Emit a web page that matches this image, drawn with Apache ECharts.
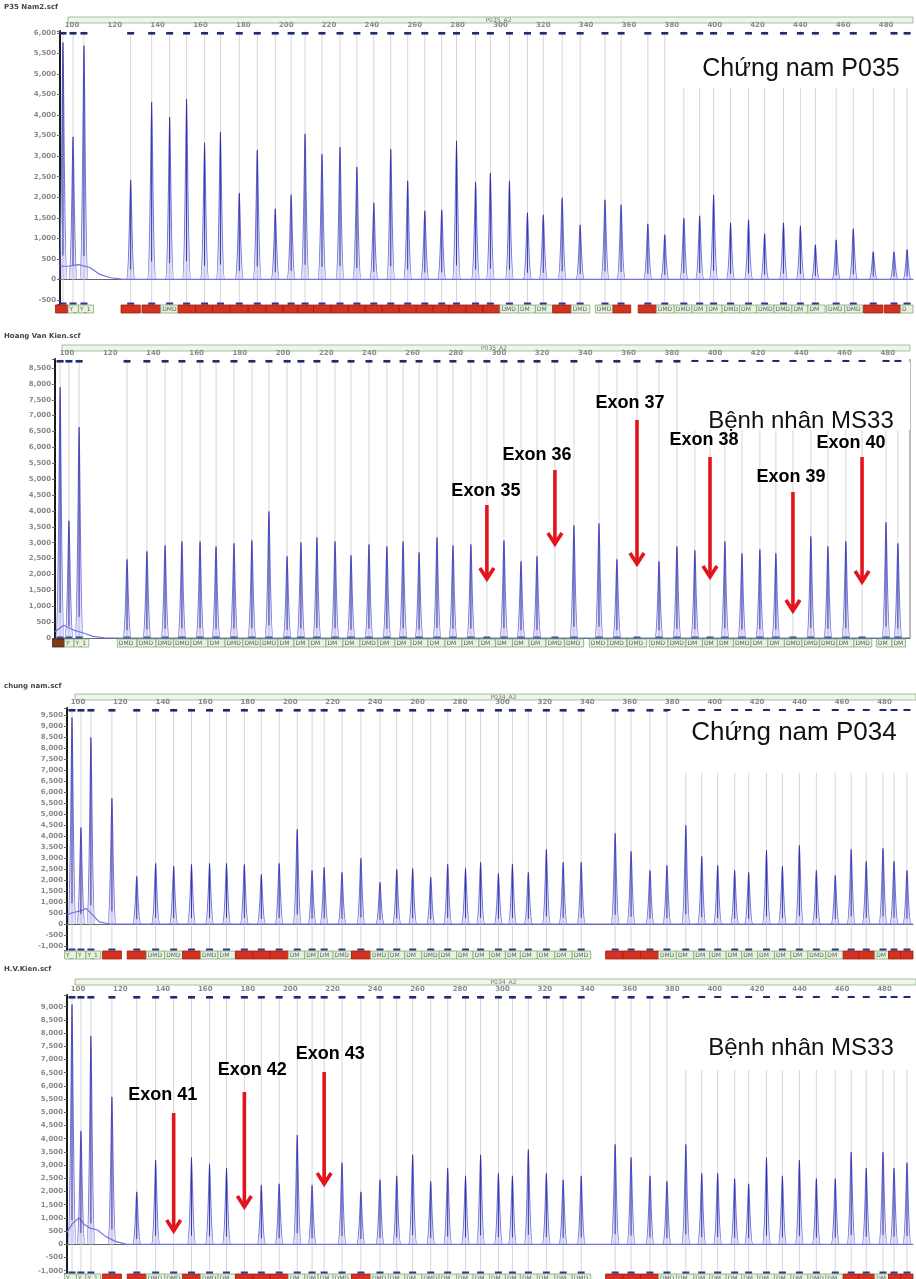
<!DOCTYPE html>
<html>
<head>
<meta charset="utf-8">
<title>MLPA DMD – P035 / P034</title>
<script src="https://cdn.jsdelivr.net/npm/echarts@6.0.0/dist/echarts.min.js"></script>
<style>
  html, body { margin: 0; padding: 0; background: #fff; }
  #c { width: 916px; height: 1279px; }
</style>
</head>
<body>
<div id="c"></div>
<script>
// ---------------- data (fragment size in nt, peak height in RFU) ----------------
const sampleNames = ['P35 Nam2.scf', 'Hoang Van Kien.scf', 'chung nam.scf', 'H.V.Kien.scf'];
const runNames = ['P035_A2', 'P035_A2', 'P034_A2', 'P034_A2'];
const panelLabels = ['Chứng nam P035', 'Bệnh nhân MS33', 'Chứng nam P034', 'Bệnh nhân MS33'];

// P035, normal male control
const p035ControlSize = [95.8, 100.5, 105.6, 127.4, 137.2, 145.6, 153.5, 161.9, 169.3, 178.1, 186.5, 194.9, 202.3, 208.8, 216.7, 225.1, 233.0, 240.9, 248.8, 256.7, 264.7, 272.6, 279.5, 288.4, 295.3, 304.2, 312.6, 320.0, 328.8, 337.2, 348.8, 356.3, 368.8, 376.7, 385.6, 393.0, 399.5, 407.4, 415.8, 423.3, 432.1, 440.0, 447.0, 456.7, 464.7, 474.0, 483.7, 489.8];
const p035ControlHeight = [5780, 3480, 5700, 2430, 4325, 3960, 4400, 3330, 3600, 2110, 3160, 1725, 2065, 3550, 3060, 3230, 2745, 1870, 3180, 2405, 1675, 1700, 3380, 2380, 2600, 2405, 1630, 1580, 1990, 1335, 1945, 1820, 1360, 1095, 1500, 1555, 2065, 1385, 1460, 1120, 1385, 1310, 850, 970, 1240, 680, 680, 730];

// P035, patient MS33 (0 = no peak)
const p035PatientSize = [96.8, 100.9, 105.6, 127.8, 137.0, 145.4, 153.2, 161.6, 169.0, 177.3, 185.6, 193.5, 201.9, 208.3, 215.7, 224.1, 231.5, 239.8, 248.1, 255.6, 263.0, 271.3, 278.7, 287.0, 294.4, 302.3, 310.2, 317.6, 325.9, 334.7, 346.3, 354.6, 363.9, 374.1, 382.4, 390.7, 397.7, 404.6, 412.5, 420.8, 428.2, 436.1, 444.4, 452.3, 460.6, 468.1, 479.2, 484.7];
const p035PatientHeight = [7900, 3700, 6650, 2485, 2735, 2925, 3050, 3050, 2895, 2990, 3080, 3995, 2580, 3020, 3175, 3050, 2610, 2955, 2895, 3050, 2705, 3175, 2925, 2955, 0, 3080, 2420, 2580, 0, 3555, 3615, 2485, 0, 2420, 2895, 2770, 0, 3050, 2675, 2800, 2675, 0, 3210, 2895, 3050, 0, 3650, 2990];

// P034, normal male control
const p034ControlSize = [97.2, 101.4, 106.1, 116.0, 127.7, 136.6, 145.1, 153.5, 162.0, 170.0, 178.4, 186.4, 194.8, 203.3, 210.3, 216.0, 224.4, 233.3, 242.3, 250.2, 257.7, 266.2, 274.2, 282.6, 289.7, 298.1, 304.7, 312.2, 320.7, 328.6, 337.1, 353.1, 360.6, 369.5, 377.5, 386.4, 393.9, 401.4, 409.4, 416.0, 424.4, 431.9, 439.9, 447.9, 456.8, 464.3, 471.4, 479.3, 484.5, 490.6];
const p034ControlHeight = [9400, 4400, 8500, 5730, 2180, 2770, 2640, 2730, 2770, 2770, 2730, 2270, 2770, 4320, 2450, 2590, 2360, 3000, 1910, 2500, 2545, 2140, 2730, 2545, 2820, 2320, 2730, 2360, 3410, 2820, 2820, 4140, 3320, 2450, 2680, 4500, 3090, 2680, 2450, 2360, 3360, 2640, 3590, 2450, 2230, 3410, 2860, 3450, 2860, 2450];

// P034, patient MS33 (0 = no peak)
const p034PatientSize = p034ControlSize;
const p034PatientHeight = [9100, 4300, 7900, 5600, 2000, 3200, 0, 3300, 3050, 2900, 0, 2250, 2300, 4150, 2250, 0, 3100, 2000, 2450, 2600, 3400, 2400, 2900, 2600, 3400, 2700, 2600, 3600, 2700, 2450, 2600, 3800, 3300, 2600, 2400, 3800, 2700, 2700, 2500, 2300, 3300, 2600, 3200, 2500, 2500, 3500, 2900, 3500, 2900, 3100];

// trace baseline (size, RFU)
const baselineP035Control = [[94.4, 320], [98.2, 320], [103, 360], [108.4, 290], [113, 120], [118, 40], [124, 0], [492.6, 0]];
const baselineP035Patient = [[94.4, 200], [98.5, 400], [103, 250], [108, 150], [112, 50], [118, 0], [490.3, 0]];
const baselineP034Control = [[94.8, 400], [97, 500], [101, 600], [104, 700], [107, 400], [110, 100], [115, 0], [493.4, 0]];
const baselineP034Patient = [[94.8, 450], [97.5, 800], [100.5, 1000], [103, 750], [106, 600], [109, 550], [113, 300], [118, 100], [123, 0], [493.4, 0]];

// bin annotation strip: r = red, g = named probe box, b = brown
const binTypesP035Control = 'rggrrgrrrrrrrrrrrrrrrrrrrgggrggrrggggggggggggrrg';
const binTypesP035Patient = 'bggggggggggggggggggggggggggggggggggggggggggggggg';
const binTypesP034Control = 'gggrrggrggrrrggggrgggggggggggggrrrgggggggggggrrgrr';
const binTypesP034Patient = 'gggrrggrggrrrggggrgggggggggggggrrrgggggggggggrrgrr';

// deleted exons in the patient
const deletedExonsP035 = ['Exon 35', 'Exon 36', 'Exon 37', 'Exon 38', 'Exon 39', 'Exon 40'];
const deletedExonsP034 = ['Exon 41', 'Exon 42', 'Exon 43'];

// ---------------- layout ----------------
const panels = [
  { size: p035ControlSize, height: p035ControlHeight, base: baselineP035Control, types: binTypesP035Control,
    grid: { left: 60, top: 31, width: 856, height: 273 }, x: [94.42, 492.56], y: [-600, 6050], ySplit: 13,
    titleY: 8, barY: 17, barX: [68, 913], labelBox: [676, 36, 240, 52], labelPos: [801, 69], labelSize: 25 },
  { size: p035PatientSize, height: p035PatientHeight, base: baselineP035Patient, types: binTypesP035Patient,
    grid: { left: 55, top: 359, width: 855, height: 279 }, x: [94.44, 490.3], y: [0, 8783], ySplit: 17,
    titleY: 337, barY: 345, barX: [62, 910], labelBox: [686, 362, 224, 68], labelPos: [801, 421], labelSize: 24, frameRight: true,
    callouts: { names: deletedExonsP035, layout: [
      { top: 505, bottom: 580, ly: 491, dx: -1 }, { top: 470, bottom: 545, ly: 455, dx: -18 },
      { top: 420, bottom: 565, ly: 403, dx: -7 }, { top: 457, bottom: 578, ly: 440, dx: -6 },
      { top: 492, bottom: 612, ly: 477, dx: -2 }, { top: 457, bottom: 583, ly: 443, dx: -11 }] } },
  { size: p034ControlSize, height: p034ControlHeight, base: baselineP034Control, types: binTypesP034Control,
    grid: { left: 67, top: 708, width: 849, height: 242 }, x: [94.84, 493.43], y: [-1182, 9818], ySplit: 22,
    titleY: 687, barY: 694, barX: [75, 916], labelBox: [668, 711, 248, 62], labelPos: [794, 733], labelSize: 26 },
  { size: p034PatientSize, height: p034PatientHeight, base: baselineP034Patient, types: binTypesP034Patient,
    grid: { left: 67, top: 995, width: 849, height: 278 }, x: [94.84, 493.43], y: [-1087, 9443], ySplit: 21,
    titleY: 970, barY: 979, barX: [75, 916], labelBox: [684, 998, 232, 72], labelPos: [801, 1048], labelSize: 24,
    callouts: { names: deletedExonsP034, layout: [
      { top: 1113, bottom: 1232, ly: 1095, dx: -11 }, { top: 1092, bottom: 1208, ly: 1070, dx: 8 },
      { top: 1072, bottom: 1185, ly: 1054, dx: 6 }] } }
];

const TRACE = '#7272e2';
const CORE = '#22228c';
const fmtRFU = v => v.toLocaleString('en-US');

const grids = [], xAxes = [], yAxes = [], series = [], graphics = [];

panels.forEach((p, i) => {
  grids.push(Object.assign({ containLabel: false }, p.grid));
  xAxes.push({
    gridIndex: i, type: 'value', position: 'top', min: p.x[0], max: p.x[1], splitNumber: 20,
    axisLine: { show: true, lineStyle: { color: '#666', width: 1 } },
    axisTick: { show: false }, splitLine: { show: false },
    axisLabel: { margin: 2, fontSize: 7, fontWeight: 'bold', color: '#8a8a8a', fontFamily: 'DejaVu Sans',
      formatter: v => (Math.abs(v % 20) < 1e-6 ? String(v) : '') }
  });
  yAxes.push({
    gridIndex: i, type: 'value', min: p.y[0], max: p.y[1], splitNumber: p.ySplit,
    axisLine: { show: true, lineStyle: { color: '#1a1a1a', width: 2 } },
    axisTick: { show: true, length: 3, lineStyle: { color: '#666' } }, splitLine: { show: false },
    axisLabel: { margin: 4, fontSize: 7, fontWeight: 'bold', color: '#8a8a8a', fontFamily: 'DejaVu Sans',
      formatter: v => (Math.abs(v % 500) < 1e-6 ? fmtRFU(v) : '') }
  });

  const sizes = p.size;

  // bin guide lines with markers at top and bottom of the plot
  series.push({
    type: 'custom', xAxisIndex: i, yAxisIndex: i, silent: true, z: 1, clip: false,
    data: sizes.map(s => [s, 0]),
    renderItem: (params, api) => {
      const cs = params.coordSys;
      const x = api.coord([api.value(0), 0])[0];
      return { type: 'group', children: [
        { type: 'line', shape: { x1: x, y1: cs.y, x2: x, y2: cs.y + cs.height }, style: { stroke: '#d6d6d6', lineWidth: 1 } },
        { type: 'rect', shape: { x: x - 3.5, y: cs.y + 1, width: 7, height: 2.6 }, style: { fill: '#1d2b70' } },
        { type: 'rect', shape: { x: x - 3.5, y: cs.y + cs.height - 1.5, width: 7, height: 2.2 }, style: { fill: '#2a3a8a' } }
      ] };
    }
  });

  // trace baseline
  series.push({
    type: 'line', xAxisIndex: i, yAxisIndex: i, silent: true, z: 2, showSymbol: false, symbol: 'none',
    data: p.base, lineStyle: { color: TRACE, width: 1.2 }, animation: false
  });

  // peaks
  series.push({
    type: 'custom', xAxisIndex: i, yAxisIndex: i, silent: true, z: 3,
    data: sizes.map((s, k) => [s, p.height[k]]).filter(d => d[1] > 0),
    renderItem: (params, api) => {
      const s = api.value(0), h = api.value(1);
      const top = api.coord([s, h]);
      const base = api.coord([s, 0]);
      const x = top[0], yb = base[1], yt = top[1];
      const w = 4.2;
      const d = `M${x - w},${yb} C${x - 1.4},${yb} ${x - 0.7},${yt} ${x},${yt} C${x + 0.7},${yt} ${x + 1.4},${yb} ${x + w},${yb}`;
      return { type: 'group', children: [
        { type: 'path', shape: { pathData: d }, style: { fill: 'rgba(114,114,226,0.22)', stroke: TRACE, lineWidth: 1.1 } },
        { type: 'line', shape: { x1: x, y1: yb - (yb - yt) * 0.1, x2: x, y2: yt + 0.5 }, style: { stroke: CORE, lineWidth: 1, opacity: 0.85 } }
      ] };
    }
  });

  // bin annotation strip under the plot
  series.push({
    type: 'custom', xAxisIndex: i, yAxisIndex: i, silent: true, z: 4, clip: false,
    data: sizes.map((s, k) => [s, k]),
    renderItem: (params, api) => {
      const cs = params.coordSys;
      const k = api.value(1);
      const s = sizes[k];
      const lo = k > 0 ? Math.max((sizes[k - 1] + s) / 2, s - 4.5) : s - 3.5;
      const hi = k < sizes.length - 1 ? Math.min((sizes[k + 1] + s) / 2, s + 4.5) : s + 3.5;
      let x0 = api.coord([lo, 0])[0];
      const x1 = Math.min(api.coord([hi, 0])[0], cs.x + cs.width);
      x0 = Math.max(x0, cs.x - 8);
      const y0 = cs.y + cs.height + 1;
      const t = p.types[k];
      const fill = t === 'r' ? '#d3321f' : (t === 'b' ? '#7b3d14' : '#e8f2dc');
      const stroke = t === 'r' ? '#9b1d10' : (t === 'b' ? '#4a2208' : '#84a872');
      const children = [{ type: 'rect', shape: { x: x0, y: y0, width: Math.max(0, x1 - x0), height: 8 }, style: { fill, stroke, lineWidth: 0.8 } }];
      if (t === 'g' && x1 - x0 > 8) {
        children.push({ type: 'text', x: x0 + 1.5, y: y0 + 4.2,
          style: { text: k < 3 ? 'Y_105' : 'DMD_ex', fontSize: 6, fontFamily: 'DejaVu Sans', fill: '#5a6470', verticalAlign: 'middle',
            width: x1 - x0 - 2, overflow: 'truncate', ellipsis: '' } });
      }
      return { type: 'group', children };
    }
  });

  // red arrows and labels marking the deleted exons
  if (p.callouts) {
    const idx = p.height.map((h, k) => (h === 0 ? k : -1)).filter(k => k >= 0);
    series.push({
      type: 'custom', xAxisIndex: i, yAxisIndex: i, silent: true, z: 200, zlevel: 1, clip: false,
      data: idx.map((k, n) => [sizes[k], n]),
      renderItem: (params, api) => {
        const n = api.value(1);
        const L = p.callouts.layout[n];
        const x = api.coord([api.value(0), 0])[0];
        const red = '#e3141b';
        return { type: 'group', children: [
          { type: 'line', shape: { x1: x, y1: L.top, x2: x, y2: L.bottom - 3 }, style: { stroke: red, lineWidth: 3.6 } },
          { type: 'polyline', shape: { points: [[x - 7, L.bottom - 12], [x, L.bottom - 1], [x + 7, L.bottom - 12]] },
            style: { stroke: red, lineWidth: 3.6, fill: null, lineJoin: 'miter' } },
          { type: 'text', x: x + L.dx, y: L.ly,
            style: { text: p.callouts.names[n], fontSize: 18, fontWeight: 'bold', fontFamily: 'Liberation Sans, Arial, sans-serif',
              fill: '#000', align: 'center', verticalAlign: 'middle' } }
        ] };
      }
    });
  }

  // headers: file name, run bar, sample label box
  graphics.push({ type: 'text', left: 4, top: p.titleY - 4,
    style: { text: sampleNames[i], fontSize: 7, fontWeight: 'bold', fontFamily: 'DejaVu Sans', fill: '#444' } });
  graphics.push({ type: 'rect', shape: { x: p.barX[0], y: p.barY, width: p.barX[1] - p.barX[0], height: 6 },
    style: { fill: '#eef6ea', stroke: '#8fb28a', lineWidth: 0.8 } });
  graphics.push({ type: 'text', x: (p.barX[0] + p.barX[1]) / 2 + 8, y: p.barY + 3.2,
    style: { text: runNames[i], fontSize: 6, fontFamily: 'DejaVu Sans', fill: '#7a7a7a', align: 'center', verticalAlign: 'middle' } });
  graphics.push({ type: 'rect', z: 50, shape: { x: p.labelBox[0], y: p.labelBox[1], width: p.labelBox[2], height: p.labelBox[3] },
    style: { fill: '#ffffff' } });
  graphics.push({ type: 'text', z: 51, x: p.labelPos[0], y: p.labelPos[1],
    style: { text: panelLabels[i], fontSize: p.labelSize, fontFamily: 'Liberation Sans, Arial, sans-serif', fill: '#111', align: 'center', verticalAlign: 'middle' } });
  if (p.frameRight) {
    const xr = p.grid.left + p.grid.width;
    graphics.push({ type: 'line', shape: { x1: xr, y1: p.grid.top, x2: xr, y2: p.grid.top + p.grid.height },
      style: { stroke: '#777', lineWidth: 1 } });
  }
});

const chart = echarts.init(document.getElementById('c'), null, { renderer: 'canvas', width: 916, height: 1279 });
chart.setOption({
  animation: false,
  backgroundColor: '#ffffff',
  grid: grids,
  xAxis: xAxes,
  yAxis: yAxes,
  series,
  graphic: graphics
});
</script>
</body>
</html>
